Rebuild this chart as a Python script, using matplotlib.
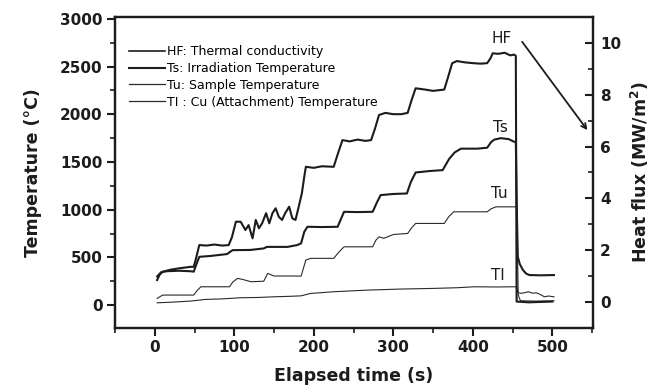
import matplotlib
matplotlib.use("Agg")
import matplotlib.pyplot as plt
from matplotlib.ticker import MultipleLocator
from matplotlib.lines import Line2D

# ---------------- data ----------------
hf_t = [3, 6, 10, 20, 30, 45, 49, 52, 56, 65, 75, 85, 93, 97, 102, 108, 114, 118, 123, 127,
        131, 135, 140, 144, 148, 152, 156, 160, 164, 169, 173, 177, 181, 185, 188, 190, 200,
        210, 225, 230, 236, 245, 255, 265, 272, 277, 282, 290, 300, 310, 318, 323, 328, 340,
        350, 364, 369, 374, 380, 390, 400, 410, 418, 422, 425, 432, 440, 447, 452, 454, 455,
        470, 500]
hf_v = [0.85, 1.05, 1.17, 1.25, 1.30, 1.36, 1.36, 1.70, 2.20, 2.18, 2.22, 2.18, 2.20, 2.50,
        3.10, 3.10, 2.78, 2.97, 2.46, 3.17, 2.85, 3.04, 3.43, 3.04, 3.43, 3.62, 3.29, 3.17,
        3.43, 3.68, 3.23, 3.17, 3.68, 4.20, 4.84, 5.22, 5.18, 5.24, 5.22, 5.70, 6.25, 6.20,
        6.27, 6.22, 6.25, 6.70, 7.22, 7.30, 7.25, 7.25, 7.30, 7.80, 8.25, 8.20, 8.15, 8.20,
        8.70, 9.22, 9.30, 9.25, 9.22, 9.20, 9.22, 9.40, 9.60, 9.58, 9.62, 9.52, 9.55, 9.50,
        0.02, -0.01, 0.02]

ts_t = [3, 8, 15, 30, 45, 49, 52, 56, 70, 91, 95, 98, 120, 137, 141, 167, 179, 184, 188, 192,
        210, 230, 234, 238, 255, 274, 279, 284, 300, 317, 322, 328, 345, 362, 370, 377, 385,
        406, 418, 423, 427, 435, 445, 452, 454, 455.5, 456.5, 459, 463, 467, 471, 485, 502]
ts_v = [300, 345, 355, 360, 355, 350, 420, 506, 515, 535, 560, 576, 578, 594, 610, 610, 629,
        647, 768, 821, 818, 821, 900, 978, 975, 978, 1070, 1153, 1165, 1170, 1290, 1390, 1405,
        1415, 1530, 1600, 1640, 1640, 1650, 1710, 1735, 1750, 1740, 1712, 1710, 900, 506, 430,
        367, 330, 315, 312, 315]

tu_t = [3, 10, 30, 49, 53, 58, 75, 94, 98, 104, 110, 121, 137, 142, 150, 170, 184, 190, 196,
        225, 232, 238, 255, 274, 278, 282, 288, 300, 318, 323, 328, 345, 364, 370, 376, 397,
        418, 423, 429, 440, 452, 455, 457, 460, 465, 470, 475, 480, 485, 490, 495, 502]
tu_v = [70, 105, 105, 105, 150, 192, 192, 192, 240, 280, 270, 245, 250, 332, 305, 305, 304,
        472, 490, 490, 560, 611, 611, 611, 680, 716, 700, 740, 751, 810, 856, 856, 856, 930,
        978, 978, 978, 1010, 1030, 1030, 1030, 1028, 130, 123, 130, 140, 125, 128, 110, 87,
        95, 87]

tl_t = [3, 20, 45, 63, 85, 108, 130, 150, 170, 184, 190, 196, 225, 267, 309, 351, 380, 402,
        430, 452, 455, 458, 460, 480, 502]
tl_v = [24, 30, 42, 59, 65, 77, 80, 87, 92, 97, 110, 122, 140, 157, 168, 175, 182, 192, 190,
        192, 190, 80, 45, 42, 45]

legend_labels = ["HF: Thermal conductivity", "Ts: Irradiation Temperature",
                 "Tu: Sample Temperature", "TI : Cu (Attachment) Temperature"]
x_ticks = [0, 100, 200, 300, 400, 500]
yl_ticks = [0, 500, 1000, 1500, 2000, 2500, 3000]
yr_ticks = [0, 2, 4, 6, 8, 10]

# ---------------- figure ----------------
plt.rcParams['font.family'] = ['DejaVu Sans']
fig = plt.figure(figsize=(6.67, 3.85), dpi=100)
ax = fig.add_axes([0.1724, 0.1481, 0.7166, 0.8077])
ax2 = ax.twinx()

dark = '#1c1c1c'
ax.plot(ts_t, ts_v, color=dark, lw=1.5)
ax.plot(tu_t, tu_v, color='#2a2a2a', lw=0.8)
ax.plot(tl_t, tl_v, color='#2a2a2a', lw=0.8)
ax2.plot(hf_t, hf_v, color=dark, lw=1.5)

ax.set_xlim(-50, 551)
ax.set_ylim(-240, 3020)
ax2.set_ylim(-1, 11)

ax.set_xticks(x_ticks)
ax.set_yticks(yl_ticks)
ax2.set_yticks(yr_ticks)
ax.xaxis.set_minor_locator(MultipleLocator(50))
ax.yaxis.set_minor_locator(MultipleLocator(250))
ax2.yaxis.set_minor_locator(MultipleLocator(1))

for a in (ax, ax2):
    for s in a.spines.values():
        s.set_linewidth(1.6)
        s.set_color(dark)

ax.tick_params(axis='both', which='major', direction='out', length=6, width=1.5,
               labelsize=11, pad=3, colors=dark)
ax.tick_params(axis='both', which='minor', direction='out', length=3.5, width=1.2, colors=dark)
ax2.tick_params(axis='y', which='major', direction='in', length=6, width=1.5,
                labelsize=11, pad=5, colors=dark)
ax2.tick_params(axis='y', which='minor', direction='in', length=3.5, width=1.2, colors=dark)
for lab in ax.get_xticklabels() + ax.get_yticklabels() + ax2.get_yticklabels():
    lab.set_fontweight('bold')

ax.set_xlabel("Elapsed time (s)", fontsize=12.5, fontweight='bold', labelpad=8, color=dark)
ax.set_ylabel("Temperature (°C)", fontsize=12.5, fontweight='bold', labelpad=13, color=dark)
ax2.set_ylabel("Heat flux (MW/m$^{\\mathbf{2}}$)", fontsize=12.5, fontweight='bold',
               labelpad=6, color=dark)

# legend
handles = [Line2D([], [], color=dark, lw=1.2), Line2D([], [], color=dark, lw=1.5),
           Line2D([], [], color='#2a2a2a', lw=0.9), Line2D([], [], color='#2a2a2a', lw=0.9)]
leg = ax.legend(handles, legend_labels, loc='upper left', bbox_to_anchor=(0.005, 0.945),
                frameon=False, handlelength=2.9, handletextpad=0.2,
                labelspacing=0.3, borderaxespad=0.5,
                prop={'family': 'DejaVu Sans', 'size': 9})

# curve labels
ax.text(436, 2790, "HF", fontsize=11, ha='center', va='center', color=dark)
ax.text(435, 1865, "Ts", fontsize=11, ha='center', va='center', color=dark)
ax.text(433, 1174, "Tu", fontsize=11, ha='center', va='center', color=dark)
ax.text(431, 315, "Tl", fontsize=11, ha='center', va='center', color=dark)
ax.annotate('', xy=(544, 1834), xytext=(462, 2760),
            arrowprops=dict(arrowstyle='->', lw=1.3, color=dark, shrinkA=0, shrinkB=0,
                            mutation_scale=9))

fig.savefig("out.png", dpi=100)
